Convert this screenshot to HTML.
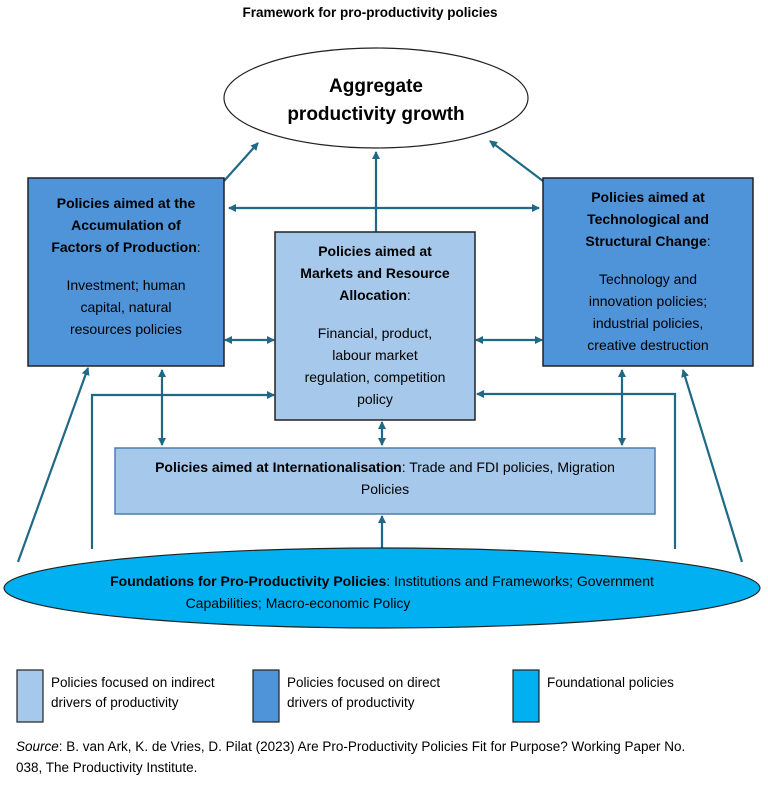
<!DOCTYPE html>
<html><head><meta charset="utf-8"><style>
body{margin:0;background:#fff;}
svg{display:block;font-family:"Liberation Sans",sans-serif;}
</style></head><body>
<svg width="768" height="797" viewBox="0 0 768 797" xmlns="http://www.w3.org/2000/svg">
<defs>
<marker id="a" markerWidth="8" markerHeight="8" refX="7" refY="4" orient="auto-start-reverse" markerUnits="userSpaceOnUse"><path d="M0,0 L8,4 L0,8 z" fill="#1f6886"/></marker>
</defs>
<text x="370" y="17" font-size="13.5" font-weight="bold" text-anchor="middle">Framework for pro-productivity policies</text>

<g stroke="#1f6886" stroke-width="2.2" fill="none">
<line x1="224" y1="181" x2="258" y2="143" marker-end="url(#a)"/>
<line x1="543" y1="181" x2="490" y2="141" marker-end="url(#a)"/>
<line x1="376" y1="232" x2="376" y2="152" marker-end="url(#a)"/>
<line x1="229" y1="208" x2="539" y2="208" marker-start="url(#a)" marker-end="url(#a)"/>
<line x1="225" y1="340" x2="274" y2="340" marker-start="url(#a)" marker-end="url(#a)"/>
<line x1="476" y1="340" x2="542" y2="340" marker-start="url(#a)" marker-end="url(#a)"/>
<line x1="162" y1="370" x2="162" y2="445" marker-start="url(#a)" marker-end="url(#a)"/>
<line x1="382" y1="422" x2="382" y2="445" marker-start="url(#a)" marker-end="url(#a)"/>
<line x1="622" y1="370" x2="622" y2="445" marker-start="url(#a)" marker-end="url(#a)"/>
<polyline points="92,549 92,395 274,395" marker-end="url(#a)"/>
<polyline points="675,549 675,394 477,394" marker-end="url(#a)"/>
<line x1="382" y1="549" x2="382" y2="516" marker-end="url(#a)"/>
<line x1="18" y1="562" x2="88" y2="368" marker-end="url(#a)"/>
<line x1="742" y1="562" x2="683" y2="370" marker-end="url(#a)"/>
</g>

<ellipse cx="376" cy="98" rx="152" ry="50" fill="#fff" stroke="#222" stroke-width="1.2"/>
<text x="376" y="92" font-size="19" font-weight="bold" text-anchor="middle">Aggregate</text>
<text x="376" y="120" font-size="19" font-weight="bold" text-anchor="middle">productivity growth</text>

<rect x="28" y="178" width="196" height="188" fill="#4f93d8" stroke="#222" stroke-width="1.5"/>
<g font-size="14" text-anchor="middle">
<text x="126" y="208" font-weight="bold">Policies aimed at the</text>
<text x="126" y="230" font-weight="bold">Accumulation of</text>
<text x="126" y="252"><tspan font-weight="bold">Factors of Production</tspan>:</text>
<text x="126" y="290">Investment; human</text>
<text x="126" y="312">capital, natural</text>
<text x="126" y="334">resources policies</text>
</g>

<rect x="543" y="178" width="210" height="188" fill="#4f93d8" stroke="#222" stroke-width="1.5"/>
<g font-size="14" text-anchor="middle">
<text x="648" y="202" font-weight="bold">Policies aimed at</text>
<text x="648" y="224" font-weight="bold">Technological and</text>
<text x="648" y="246"><tspan font-weight="bold">Structural Change</tspan>:</text>
<text x="648" y="284">Technology and</text>
<text x="648" y="306">innovation policies;</text>
<text x="648" y="328">industrial policies,</text>
<text x="648" y="350">creative destruction</text>
</g>

<rect x="275" y="232" width="200" height="188" fill="#a6c8ea" stroke="#222" stroke-width="1.5"/>
<g font-size="14" text-anchor="middle">
<text x="375" y="256" font-weight="bold">Policies aimed at</text>
<text x="375" y="278" font-weight="bold">Markets and Resource</text>
<text x="375" y="300"><tspan font-weight="bold">Allocation</tspan>:</text>
<text x="375" y="338">Financial, product,</text>
<text x="375" y="360">labour market</text>
<text x="375" y="382">regulation, competition</text>
<text x="375" y="404">policy</text>
</g>

<rect x="115" y="448" width="540" height="66" fill="#a6c8ea" stroke="#4a7fb5" stroke-width="1.5"/>
<g font-size="14" text-anchor="middle">
<text x="385" y="472"><tspan font-weight="bold">Policies aimed at Internationalisation</tspan>: Trade and FDI policies, Migration</text>
<text x="385" y="494">Policies</text>
</g>

<ellipse cx="382" cy="588" rx="378" ry="40" fill="#00b0f0" stroke="#222" stroke-width="1.2"/>
<g font-size="14" text-anchor="middle">
<text x="382" y="586"><tspan font-weight="bold">Foundations for Pro-Productivity Policies</tspan>: Institutions and Frameworks; Government</text>
<text x="382" y="608" text-anchor="end" x2="0"></text>
<text x="298" y="608">Capabilities; Macro-economic Policy</text>
</g>

<rect x="17" y="670" width="26" height="52" fill="#a6c8ea" stroke="#222" stroke-width="1.2"/>
<rect x="253" y="670" width="26" height="52" fill="#4f93d8" stroke="#222" stroke-width="1.2"/>
<rect x="513" y="670" width="26" height="52" fill="#00b0f0" stroke="#222" stroke-width="1.2"/>
<g font-size="13.5">
<text x="51" y="687">Policies focused on indirect</text>
<text x="51" y="707">drivers of productivity</text>
<text x="287" y="687">Policies focused on direct</text>
<text x="287" y="707">drivers of productivity</text>
<text x="547" y="687">Foundational policies</text>
<text x="16" y="751"><tspan font-style="italic">Source</tspan>: B. van Ark, K. de Vries, D. Pilat (2023) Are Pro-Productivity Policies Fit for Purpose? Working Paper No.</text>
<text x="16" y="772">038, The Productivity Institute.</text>
</g>
</svg>
</body></html>
